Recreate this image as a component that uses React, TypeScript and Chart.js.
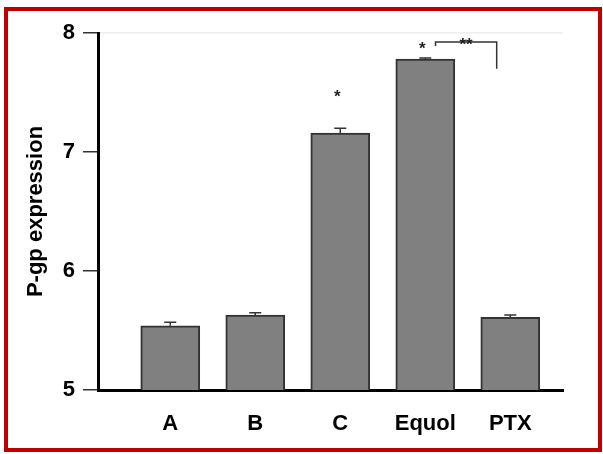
import { useEffect, useRef } from 'react';
import { Chart, registerables } from 'chart.js';

Chart.register(...registerables);

const categories = ['A', 'B', 'C', 'Equol', 'PTX'];
const values = [5.54, 5.63, 7.16, 7.78, 5.61];
const errors = [0.03, 0.02, 0.04, 0.01, 0.02];
const starLabels = ['', '', '*', '*', ''];
const starLevels = [0, 0, 7.49, 7.9, 0];
const yTicks = [5, 6, 7, 8];
const bracketX = [3.12, 3.84];
const bracketY = [7.89, 7.925, 7.7];
const bracketLabel = '**';

const FONT = 'Arial, "Liberation Sans", sans-serif';

const annotPlugin = {
  id: 'annot',
  beforeDraw(chart: any) {
    const { ctx } = chart;
    ctx.save();
    ctx.fillStyle = '#ffffff';
    ctx.fillRect(0, 0, chart.width, chart.height);
    ctx.strokeStyle = '#c00000';
    ctx.lineWidth = 4;
    ctx.strokeRect(6, 9, 594, 441);
    ctx.restore();
  },
  afterDatasetsDraw(chart: any) {
    const { ctx } = chart;
    const x = chart.scales.x;
    const y = chart.scales.y;
    ctx.save();
    // error bars
    ctx.strokeStyle = '#333333';
    ctx.lineWidth = 1.5;
    values.forEach((v, i) => {
      const px = x.getPixelForValue(i);
      const top = y.getPixelForValue(v);
      const e = y.getPixelForValue(v + errors[i]);
      ctx.beginPath();
      ctx.moveTo(px, top);
      ctx.lineTo(px, e);
      ctx.moveTo(px - 6, e);
      ctx.lineTo(px + 6, e);
      ctx.stroke();
    });
    // stars
    ctx.fillStyle = '#222222';
    ctx.font = `bold 17px ${FONT}`;
    ctx.textAlign = 'center';
    ctx.textBaseline = 'middle';
    starLabels.forEach((s, i) => {
      if (!s) return;
      ctx.fillText(s, x.getPixelForValue(i) - 3, y.getPixelForValue(starLevels[i]) + 4);
    });
    // bracket
    const x1 = x.getPixelForValue(bracketX[0]);
    const x2 = x.getPixelForValue(bracketX[1]);
    const yl = y.getPixelForValue(bracketY[0]);
    const yt = y.getPixelForValue(bracketY[1]);
    const yr = y.getPixelForValue(bracketY[2]);
    ctx.strokeStyle = '#333333';
    ctx.lineWidth = 1.5;
    ctx.beginPath();
    ctx.moveTo(x1, yl);
    ctx.lineTo(x1, yt);
    ctx.lineTo(x2, yt);
    ctx.lineTo(x2, yr);
    ctx.stroke();
    ctx.fillText(bracketLabel, (x1 + x2) / 2, yt + 3);
    ctx.restore();
  },
};

export default function App() {
  const ref = useRef<HTMLCanvasElement>(null);
  useEffect(() => {
    if (!ref.current) return;
    const chart = new Chart(ref.current, {
      type: 'bar',
      data: {
        datasets: [
          {
            data: values.map((v, i) => ({ x: i, y: v })),
            backgroundColor: '#808080',
            borderColor: '#333333',
            borderWidth: 2,
            barThickness: 59,
          },
        ],
      },
      options: {
        animation: false,
        responsive: false,
        devicePixelRatio: 1,
        layout: { padding: { left: 0, top: 33, right: 40, bottom: 0 } },
        plugins: { legend: { display: false }, tooltip: { enabled: false } },
        scales: {
          x: {
            type: 'linear',
            min: -0.85,
            max: 4.62,
            offset: false,
            grid: { display: false, offset: false, drawTicks: false },
            border: { display: true, color: '#000000', width: 3 },
            afterBuildTicks: (axis: any) => {
              axis.ticks = categories.map((_, i) => ({ value: i }));
            },
            afterFit: (scale: any) => {
              scale.height = 64;
            },
            ticks: {
              autoSkip: false,
              maxRotation: 0,
              padding: 21,
              color: '#000000',
              font: { family: FONT, size: 22, weight: 'bold' },
              callback: (v: any) => categories[v] ?? '',
            },
          },
          y: {
            min: 5,
            max: 8,
            afterBuildTicks: (axis: any) => {
              axis.ticks = yTicks.map((v) => ({ value: v }));
            },
            afterFit: (scale: any) => {
              scale.width = 98;
            },
            border: { display: true, color: '#000000', width: 3 },
            grid: {
              drawOnChartArea: true,
              color: (ctx: any) => (ctx.tick && ctx.tick.value === 8 ? '#eeeeee' : 'rgba(0,0,0,0)'),
              tickColor: '#333333',
              tickLength: 15,
              lineWidth: 1.5,
            },
            ticks: {
              padding: 8,
              color: '#000000',
              font: { family: FONT, size: 22, weight: 'bold' },
            },
            title: {
              display: true,
              text: 'P-gp expression',
              color: '#000000',
              font: { family: FONT, size: 22, weight: 'bold' },
              padding: { top: 23, bottom: 0 },
            },
          },
        },
      },
      plugins: [annotPlugin],
    } as any);
    return () => chart.destroy();
  }, []);
  return (
    <canvas
      ref={ref}
      width={603}
      height={454}
      style={{ position: 'absolute', left: 0, top: 0, width: 603, height: 454 }}
    />
  );
}
